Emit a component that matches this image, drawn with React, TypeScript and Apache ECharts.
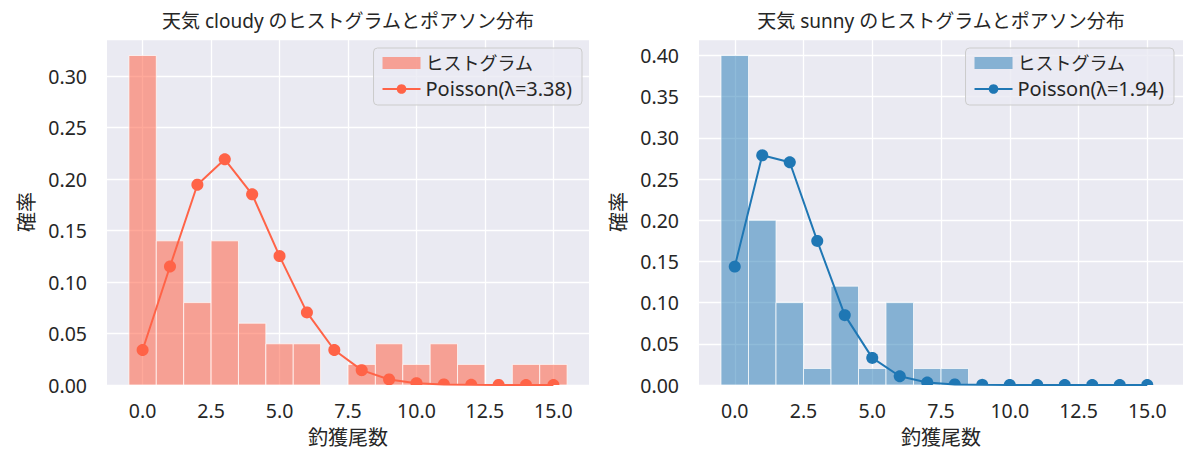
import React, { useEffect, useRef } from "react";
import * as echarts from "echarts";

// ---- data ----
const counts = [0, 1, 2, 3, 4, 5, 6, 7, 8, 9, 10, 11, 12, 13, 14, 15];
const cloudyHist = [0.32, 0.14, 0.08, 0.14, 0.06, 0.04, 0.04, 0, 0.02, 0.04, 0.02, 0.04, 0.02, 0, 0.02, 0.02];
const cloudyPoisson = [0.034, 0.1151, 0.1945, 0.2192, 0.1852, 0.1252, 0.0705, 0.034, 0.0144, 0.0054, 0.0018, 0.0006, 0.0002, 0.00004, 0.00001, 0.000002];
const sunnyHist = [0.4, 0.2, 0.1, 0.02, 0.12, 0.02, 0.1, 0.02, 0.02, 0, 0, 0, 0, 0, 0, 0];
const sunnyPoisson = [0.1437, 0.2788, 0.2704, 0.1749, 0.0848, 0.0329, 0.0106, 0.003, 0.0007, 0.0002, 0.00003, 0.000005, 0.000001, 0, 0, 0];
const xTicks = [0, 2.5, 5, 7.5, 10, 12.5, 15];
const yTicksCloudy = [0, 0.05, 0.1, 0.15, 0.2, 0.25, 0.3];
const yTicksSunny = [0, 0.05, 0.1, 0.15, 0.2, 0.25, 0.3, 0.35, 0.4];
const titles = ["天気 cloudy のヒストグラムとポアソン分布", "天気 sunny のヒストグラムとポアソン分布"];
const xName = "釣獲尾数";
const yName = "確率";
const histLabel = "ヒストグラム";
const poissonLabels = ["Poisson(λ=3.38)", "Poisson(λ=1.94)"];

const FONT = "'Noto Sans', 'Noto Sans CJK JP', sans-serif";
const TEXT = "#262626";
const BG = "#EAEAF2";

const panels = [
  {
    hist: cloudyHist, poisson: cloudyPoisson, yTicks: yTicksCloudy, yMax: 0.336,
    barColor: "rgba(255,99,71,0.55)", lineColor: "#FF6347",
    left: 107, width: 482,
  },
  {
    hist: sunnyHist, poisson: sunnyPoisson, yTicks: yTicksSunny, yMax: 0.42,
    barColor: "rgba(31,119,180,0.5)", lineColor: "#1F77B4",
    left: 699, width: 484,
  },
];

const TOP = 39;
const HEIGHT = 346;

export default function App() {
  const ref = useRef<HTMLDivElement>(null);
  useEffect(() => {
    if (!ref.current) return;
    const chart = echarts.init(ref.current, null, { renderer: "svg" });
    const grids: any[] = [];
    const xAxes: any[] = [];
    const yAxes: any[] = [];
    const series: any[] = [];
    const legends: any[] = [];
    const graphics: any[] = [];
    const nameMap: Record<string, string> = {};

    panels.forEach((p, i) => {
      grids.push({ left: p.left, top: TOP, width: p.width, height: HEIGHT, show: true, backgroundColor: BG, borderWidth: 0 });
      xAxes.push({
        type: "value", gridIndex: i, min: -1.3, max: 16.3,
        name: xName, nameLocation: "middle", nameGap: 42,
        nameTextStyle: { fontSize: 20, color: TEXT, fontFamily: FONT },
        axisLine: { show: false },
        axisTick: { show: false, customValues: xTicks },
        splitLine: { show: true, lineStyle: { color: "#FFFFFF", width: 1.3 }, customValues: xTicks },
        axisLabel: { customValues: xTicks, formatter: (v: number) => v.toFixed(1), fontSize: 19.5, color: TEXT, fontFamily: FONT, margin: 16 },
      });
      yAxes.push({
        type: "value", gridIndex: i, min: 0, max: p.yMax, interval: 0.05,
        name: yName, nameLocation: "middle", nameGap: 71, nameRotate: 90,
        nameTextStyle: { fontSize: 20, color: TEXT, fontFamily: FONT },
        axisLine: { show: false },
        axisTick: { show: false },
        splitLine: { show: true, lineStyle: { color: "#FFFFFF", width: 1.3 } },
        axisLabel: { customValues: p.yTicks, formatter: (v: number) => v.toFixed(2), fontSize: 19.5, color: TEXT, fontFamily: FONT, margin: 20 },
      });
      const histName = "hist" + i;
      const poisName = "pois" + i;
      nameMap[histName] = "{c|" + histLabel + "}";
      nameMap[poisName] = "{l|" + poissonLabels[i] + "}";
      const color = p.barColor;
      series.push({
        type: "custom", name: histName, xAxisIndex: i, yAxisIndex: i,
        itemStyle: { color },
        data: counts.map((c, k) => [c, p.hist[k]]),
        renderItem: (params: any, api: any) => {
          const x = api.value(0);
          const y = api.value(1);
          if (!y) return { type: "group", children: [] };
          const a = api.coord([x - 0.5, y]);
          const b = api.coord([x + 0.5, 0]);
          return {
            type: "rect",
            shape: { x: a[0], y: a[1], width: b[0] - a[0], height: b[1] - a[1] },
            style: { fill: color, stroke: "rgba(255,255,255,0.7)", lineWidth: 1 },
          };
        },
        z: 2,
      });
      series.push({
        type: "line", name: poisName, xAxisIndex: i, yAxisIndex: i,
        data: counts.map((c, k) => [c, p.poisson[k]]),
        symbol: "none", clip: true,
        lineStyle: { color: p.lineColor, width: 2 },
        itemStyle: { color: p.lineColor },
        z: 3,
      });
      const lc = p.lineColor;
      series.push({
        type: "custom", name: "mk" + i, xAxisIndex: i, yAxisIndex: i,
        data: counts.map((c, k) => [c, p.poisson[k]]),
        renderItem: (params: any, api: any) => {
          const pt = api.coord([api.value(0), api.value(1)]);
          const bottom = api.coord([0, 0])[1];
          const r = 6;
          const pts: number[][] = [];
          for (let s = 0; s < 40; s++) {
            const t = (s / 40) * Math.PI * 2;
            pts.push([pt[0] + r * Math.cos(t), Math.min(pt[1] + r * Math.sin(t), bottom)]);
          }
          return { type: "polygon", shape: { points: pts }, style: { fill: lc } };
        },
        z: 4,
      });
      legends.push({
        orient: "vertical",
        right: i === 0 ? 618 : 26,
        top: 48,
        padding: [6, 10, 6, 8],
        itemGap: 7,
        itemWidth: 38,
        itemHeight: 12,
        itemTextGap: 15,
        backgroundColor: "rgba(234,234,242,0.8)",
        borderColor: "#CCCCCC",
        borderWidth: 1,
        borderRadius: 4,
        selectedMode: false,
        textStyle: {
          fontSize: 19, color: TEXT, fontFamily: FONT,
          rich: {
            c: { fontSize: 18, color: TEXT, fontFamily: FONT },
            l: { fontSize: 20, color: TEXT, fontFamily: FONT },
          },
        },
        formatter: (n: string) => nameMap[n] || n,
        data: [
          { name: histName, icon: "rect", itemStyle: { color } },
          { name: poisName },
        ],
      });
      graphics.push({
        type: "text",
        x: p.left + p.width / 2,
        y: 21,
        style: { text: titles[i], fontSize: 19, fontFamily: FONT, fill: TEXT, textAlign: "center", textVerticalAlign: "middle" },
      });
    });

    chart.setOption({
      animation: false,
      backgroundColor: "#FFFFFF",
      grid: grids,
      xAxis: xAxes,
      yAxis: yAxes,
      series,
      legend: legends,
      graphic: graphics,
    });
    return () => chart.dispose();
  }, []);
  return <div ref={ref} style={{ position: "absolute", left: 0, top: 0, width: 1200, height: 464 }} />;
}
